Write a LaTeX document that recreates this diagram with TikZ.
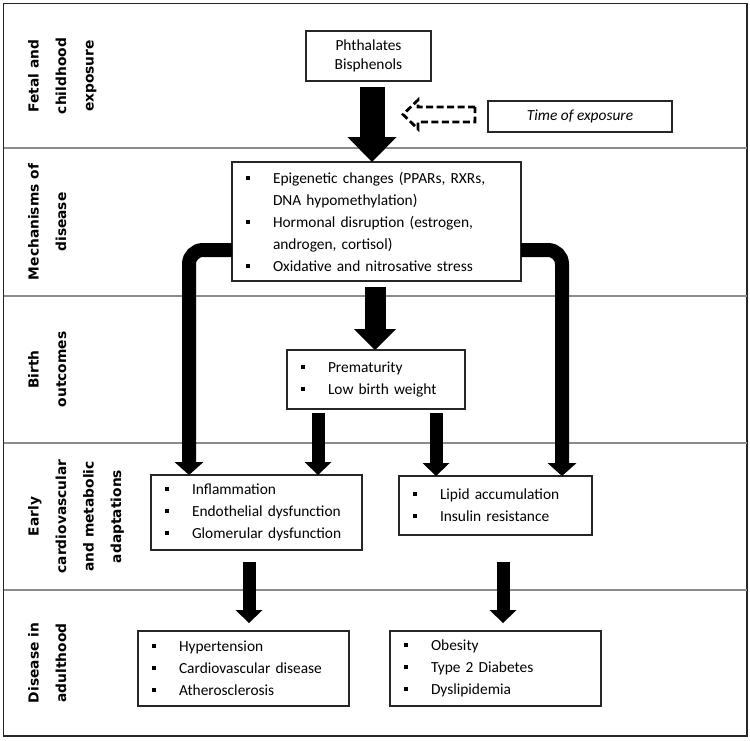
\documentclass[tikz,border=0pt]{standalone}
\usepackage{fontspec}
\setmainfont{Carlito}
\newfontfamily\lblfont{DejaVu Sans}
\usetikzlibrary{arrows.meta,calc}
\newcommand\bul{\makebox[27pt][l]{\rule[3.5pt]{4pt}{4pt}}}
\newcommand\ind{\hspace*{27pt}}
\begin{document}
\begin{tikzpicture}[x=1pt,y=-1pt,
  frame/.style={draw=black!85,line width=1.5pt},
  sepline/.style={draw=black!45,line width=1.6pt},
  rowlabel/.style={rotate=90,anchor=north,align=center,inner sep=0pt,
    font=\lblfont\bfseries\fontsize{13.8}{27.5}\selectfont},
  plainbox/.style={draw=black!85,line width=1.5pt,anchor=north west,outer sep=0pt,
    inner sep=0pt,align=center,font=\fontsize{15.4}{19}\selectfont},
  listbox/.style={draw=black!85,line width=1.5pt,anchor=north west,outer sep=0pt,
    inner xsep=14pt,inner ysep=0pt,align=left,font=\fontsize{15.4}{22}\selectfont},
  bigA/.style={line width=25pt,-{Triangle[length=25pt,width=49pt,line width=0pt]}},
  midA/.style={line width=21pt,-{Triangle[length=21pt,width=42pt,line width=0pt]}},
  smallA/.style={line width=13pt,-{Triangle[length=13pt,width=27pt,line width=0pt]}},
  curveA/.style={line width=14pt,rounded corners=14pt,-{Triangle[length=13pt,width=29pt,line width=0pt]}},
  dasharrow/.style={draw=black,line width=2.8pt,dash pattern=on 7pt off 3.5pt,line join=miter}
]
\useasboundingbox (0,0) rectangle (750,740);

% frame and row separators
\draw[frame] (3.5,3.5) rectangle (747,736);
\draw[sepline] (3.5,148) -- (747,148);
\draw[sepline] (3.5,296) -- (747,296);
\draw[sepline] (3.5,443) -- (747,443);
\draw[sepline] (3.5,590) -- (747,590);

% row labels
\node[rowlabel] (r1) at (28,76) {Fetal and\\childhood\\exposure};
\node[rowlabel] (r2) at (28,222) {Mechanisms of\\disease};
\node[rowlabel] (r3) at (28,369.5) {Birth\\outcomes};
\node[rowlabel] (r4) at (28,516.5) {Early\\cardiovascular\\and metabolic\\adaptations};
\node[rowlabel] (r5) at (28,663) {Disease in\\adulthood};

% boxes
\node[plainbox,minimum width=125pt,minimum height=50pt] (phth) at (306,31) {Phthalates\\Bisphenols};
\node[plainbox,minimum width=184pt,minimum height=31pt,font=\fontsize{15.4}{19}\selectfont\itshape] (time) at (488,101) {Time of exposure};
\node[listbox,text width=261pt,minimum height=119pt] (mech) at (232,162)
  {\bul Epigenetic changes (PPARs, RXRs,\\\ind DNA hypomethylation)\\\bul Hormonal disruption (estrogen,\\\ind androgen, cortisol)\\\bul Oxidative and nitrosative stress};
\node[listbox,text width=150pt,minimum height=59pt] (birth) at (287,350)
  {\bul Prematurity\\\bul Low birth weight};
\node[listbox,text width=183pt,minimum height=75pt] (earlyL) at (151,475)
  {\bul Inflammation\\\bul Endothelial dysfunction\\\bul Glomerular dysfunction};
\node[listbox,text width=165pt,minimum height=59pt] (earlyR) at (399,476)
  {\bul Lipid accumulation\\\bul Insulin resistance};
\node[listbox,text width=183pt,minimum height=75pt] (adultL) at (138,631)
  {\bul Hypertension\\\bul Cardiovascular disease\\\bul Atherosclerosis};
\node[listbox,text width=183pt,minimum height=75pt] (adultR) at (390,631)
  {\bul Obesity\\\bul Type 2 Diabetes\\\bul Dyslipidemia};

% connector start points
\coordinate (a1) at (372,87);
\coordinate (a2) at (375,287);
\coordinate (a3) at (318,413);
\coordinate (a4) at (436,413);
\coordinate (a5) at (249,562);
\coordinate (a6) at (503,562);
\coordinate (ml) at (189,250);
\coordinate (mr) at (562,250);
\coordinate (ts) at ($(time.west)+(-13,-2)$);

% connectors
\draw[bigA] (a1) -- (a1 |- mech.north);
\draw[midA] (a2) -- (a2 |- birth.north);
\draw[smallA] (a3) -- (a3 |- earlyL.north);
\draw[smallA] (a4) -- (a4 |- earlyR.north);
\draw[smallA,shorten >=8pt] (a5) -- (a5 |- adultL.north);
\draw[smallA,shorten >=8pt] (a6) -- (a6 |- adultR.north);
\draw[curveA] (ml -| mech.west) -- (ml) -- (ml |- earlyL.north);
\draw[curveA] (mr -| mech.east) -- (mr) -- (mr |- earlyR.north);

% dashed hollow arrow (time of exposure)
\draw[dasharrow] ($(ts)+(0,-7.5)$) -- ++(-57,0) -- ++(0,-7) -- ++(-15,14.5)
  -- ++(15,14.5) -- ++(0,-7) -- ++(57,0) -- cycle;
\end{tikzpicture}
\end{document}
